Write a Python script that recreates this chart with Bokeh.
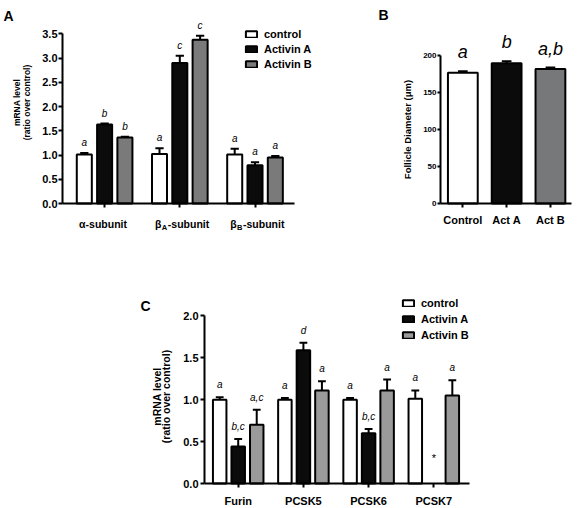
import math
from bokeh.plotting import figure
from bokeh.models import (ColumnDataSource, Range1d, FixedTicker, Label, LabelSet,
                          Legend, LegendItem, Spacer, PrintfTickFormatter,
                          CustomLabelingPolicy)
from bokeh.layouts import row, column
from bokeh.embed import file_html
from bokeh.resources import INLINE
from bokeh.core.properties import value

FONT = "Liberation Sans"

# ---------------- data ----------------
series = ["control", "Activin A", "Activin B"]

# Panel A
a_groups = ["α-subunit", "βA-subunit", "βB-subunit"]
a_control = [1.01, 1.02, 1.01]
a_control_err = [0.03, 0.12, 0.12]
a_actA = [1.63, 2.90, 0.79]
a_actA_err = [0.02, 0.15, 0.06]
a_actB = [1.36, 3.38, 0.95]
a_actB_err = [0.02, 0.08, 0.03]
a_sig_control = ["a", "a", "a"]
a_sig_actA = ["b", "c", "a"]
a_sig_actB = ["b", "c", "a"]
a_yticks = [0, 0.5, 1.0, 1.5, 2.0, 2.5, 3.0, 3.5]

# Panel B
b_groups = ["Control", "Act A", "Act B"]
b_values = [177, 190, 182]
b_err = [2, 2.5, 2]
b_sig = ["a", "b", "a,b"]
b_yticks = [0, 50, 100, 150, 200]

# Panel C
c_groups = ["Furin", "PCSK5", "PCSK6", "PCSK7"]
c_control = [1.00, 1.00, 1.00, 1.01]
c_control_err = [0.03, 0.02, 0.02, 0.10]
c_actA = [0.44, 1.59, 0.60, None]
c_actA_err = [0.09, 0.09, 0.05, None]
c_actB = [0.70, 1.11, 1.11, 1.05]
c_actB_err = [0.18, 0.11, 0.13, 0.18]
c_sig_control = ["a", "a", "a", "a"]
c_sig_actA = ["b,c", "d", "b,c", None]
c_sig_actB = ["a,c", "a", "a", "a"]
c_star_group = "PCSK7"
c_star_y = 0.31
c_yticks = [0, 0.5, 1.0, 1.5, 2.0]

WHITE = "#ffffff"
BLACK = "#0b0b0b"
GRAY_A = "#7a7a7a"
GRAY_B = "#76787a"
GRAY_C = "#9a9a9a"

HIDE_ALL = CustomLabelingPolicy(code="""
for (const i of Array.from(indices)) indices.unset(i)
""")


def make_fig(W, H, ox, oy, x0, sx, sy):
    """Canvas == frame; (ox, oy) is the canvas pixel of data point (x0, 0)."""
    xr = (x0 - ox / sx, x0 + (W - ox) / sx)
    yr = (-(H - oy) / sy, oy / sy)
    p = figure(frame_width=W, frame_height=H,
               x_range=Range1d(*xr), y_range=Range1d(*yr),
               output_backend="svg", toolbar_location=None,
               min_border_left=0, min_border_right=0,
               min_border_top=0, min_border_bottom=0)
    p.outline_line_color = None
    p.xgrid.visible = False
    p.ygrid.visible = False
    p.background_fill_color = "white"
    p.border_fill_color = "white"
    for ax in (p.xaxis[0], p.yaxis[0]):
        ax.axis_line_width = 2
        ax.axis_line_color = "black"
        ax.major_tick_line_width = 2
        ax.major_tick_line_color = "black"
        ax.major_tick_in = 0
        ax.major_tick_out = 4
        ax.minor_tick_in = 0
        ax.minor_tick_out = 0
        ax.major_label_text_font = FONT
        ax.major_label_text_font_style = "bold"
        ax.major_label_text_color = "black"
        ax.major_label_text_font_size = "11px"
    p.xaxis.fixed_location = 0
    p.yaxis.fixed_location = x0
    return p


def draw_series(p, gx, vals, errs, sigs, off, width, colors, cap, gap, sig_size):
    xs, tops, ebar, x0, x1, cols = [], [], [], [], [], []
    tx, ty, tt = [], [], []
    for g, v, e, s, c in zip(gx, vals, errs, sigs, colors):
        if v is None:
            continue
        xs.append(g + off)
        tops.append(v)
        ebar.append(v + e)
        x0.append(g + off - cap)
        x1.append(g + off + cap)
        cols.append(c)
        if s:
            tx.append(g + off)
            ty.append(v + e)
            tt.append(s)
    src = ColumnDataSource(dict(x=xs, top=tops, ebar=ebar, x0=x0, x1=x1, color=cols))
    r = p.vbar(x="x", top="top", width=width, source=src, fill_color="color",
               line_color="black", line_width=2)
    p.segment(x0="x", y0="top", x1="x", y1="ebar", source=src,
              line_color="black", line_width=2)
    p.segment(x0="x0", y0="ebar", x1="x1", y1="ebar", source=src,
              line_color="black", line_width=2)
    lab = ColumnDataSource(dict(x=tx, y=ty, text=tt))
    p.add_layout(LabelSet(x="x", y="y", text="text", source=lab, y_offset=gap,
                          text_align="center", text_baseline="alphabetic",
                          text_font=value(FONT), text_font_style="italic",
                          text_font_size=value(f"{sig_size}px"), text_color="black"))
    return r


def add_legend(p, renderers, vx, vy, lh):
    items = [LegendItem(label=value(name), renderers=[r]) for name, r in zip(series, renderers)]
    leg = Legend(items=items, location=(vx, vy), glyph_width=14, glyph_height=8,
                 label_height=lh, label_standoff=6, padding=0, spacing=0, margin=0,
                 border_line_color=None, background_fill_alpha=0,
                 label_text_font=FONT, label_text_font_style="bold",
                 label_text_font_size="11px", label_text_color="black")
    p.add_layout(leg)


def text_label(p, x, y, text, xo=0, yo=0, size="11px", style="bold", align="center",
               baseline="alphabetic", angle=0.0):
    p.add_layout(Label(x=x, y=y, text=text, x_offset=xo, y_offset=yo,
                       text_font=FONT, text_font_size=size, text_font_style=style,
                       text_align=align, text_baseline=baseline, angle=angle,
                       text_color="black"))


# ---------------- Panel A ----------------
ax0 = -0.56
pA = make_fig(345, 260, 62, 203, ax0, 75.2, 48.46)
ga = list(range(len(a_groups)))
pA.xaxis.ticker = FixedTicker(ticks=ga)
pA.xaxis.major_label_policy = HIDE_ALL
pA.xaxis.bounds = (ax0, 2.53)
pA.yaxis.ticker = FixedTicker(ticks=a_yticks)
pA.yaxis.formatter = PrintfTickFormatter(format="%.1f")
pA.yaxis.bounds = (0, 3.5)
pA.yaxis.major_label_standoff = 1

rA = [
    draw_series(pA, ga, a_control, a_control_err, a_sig_control, -0.27, 0.2, [WHITE] * 3, 0.055, 7, 10),
    draw_series(pA, ga, a_actA, a_actA_err, a_sig_actA, 0.0, 0.2, [BLACK] * 3, 0.055, 7, 10),
    draw_series(pA, ga, a_actB, a_actB_err, a_sig_actB, 0.27, 0.2, [GRAY_A] * 3, 0.055, 7, 10),
]
add_legend(pA, rA, 244, 189, 15)

for g, name in zip(ga, a_groups):
    if name.startswith("β"):
        text_label(pA, g, 0, name[0], xo=-18.3, yo=-20.3, size="10.5px", align="right")
        text_label(pA, g, 0, name[1], xo=-18.0, yo=-23.5, size="7.5px", align="left")
        text_label(pA, g, 0, name[2:], xo=-12.0, yo=-20.3, size="10.5px", align="left")
    else:
        text_label(pA, g, 0, name, xo=-25.5, yo=-20.3, size="10.5px", align="left")

text_label(pA, ax0, 0, "mRNA level", xo=-46, yo=101, size="8.5px",
           baseline="middle", angle=math.pi / 2)
text_label(pA, ax0, 0, "(ratio over control)", xo=-36, yo=101, size="8.5px",
           baseline="middle", angle=math.pi / 2)
text_label(pA, ax0, 0, "A", xo=-59, yo=188, size="14px", align="left")

# ---------------- Panel B ----------------
bx0 = -0.51
pB = make_fig(227, 260, 95, 203, bx0, 43.8, 0.7385)
gb = list(range(len(b_groups)))
pB.xaxis.ticker = FixedTicker(ticks=gb)
pB.xaxis.major_label_overrides = {i: n for i, n in zip(gb, b_groups)}
pB.xaxis.major_label_standoff = 6
pB.xaxis.bounds = (bx0, 2.48)
pB.yaxis.ticker = FixedTicker(ticks=b_yticks)
pB.yaxis.bounds = (0, 200)
pB.yaxis.major_label_text_font_size = "8px"
pB.yaxis.major_tick_out = 3
pB.yaxis.major_label_standoff = 1

draw_series(pB, gb, b_values, b_err, b_sig, 0.0, 0.68, [WHITE, BLACK, GRAY_B], 0.11, 13, 18)

text_label(pB, bx0, 0, "Follicle Diameter (μm)", xo=-33, yo=74, size="9.5px",
           baseline="middle", angle=math.pi / 2)
text_label(pB, bx0, 0, "B", xo=-62, yo=189, size="14px", align="left")

# ---------------- Panel C ----------------
cx0 = -0.517
pC = make_fig(457, 247, 84, 223, cx0, 65.2, 83.85)
gc = list(range(len(c_groups)))
pC.xaxis.ticker = FixedTicker(ticks=gc)
pC.xaxis.major_label_overrides = {i: n for i, n in zip(gc, c_groups)}
pC.xaxis.major_label_standoff = 7
pC.xaxis.bounds = (cx0, 3.55)
pC.yaxis.ticker = FixedTicker(ticks=c_yticks)
pC.yaxis.formatter = PrintfTickFormatter(format="%.1f")
pC.yaxis.bounds = (0, 2.0)
pC.yaxis.major_label_standoff = 2

rC = [
    draw_series(pC, gc, c_control, c_control_err, c_sig_control, -0.284, 0.207, [WHITE] * 4, 0.06, 9, 10),
    draw_series(pC, gc, c_actA, c_actA_err, c_sig_actA, 0.0, 0.207, [BLACK] * 4, 0.06, 9, 10),
    draw_series(pC, gc, c_actB, c_actB_err, c_sig_actB, 0.284, 0.207, [GRAY_C] * 4, 0.06, 9, 10),
]
add_legend(pC, rC, 281, 164, 16)

text_label(pC, c_groups.index(c_star_group), c_star_y, "*", size="11px", style="normal",
           baseline="middle")
text_label(pC, cx0, 0, "mRNA level", xo=-48, yo=87, size="10.5px",
           baseline="middle", angle=math.pi / 2)
text_label(pC, cx0, 0, "(ratio over control)", xo=-39, yo=87, size="10.5px",
           baseline="middle", angle=math.pi / 2)
text_label(pC, cx0, 0, "C", xo=-64, yo=178, size="14px", align="left")

layout = column(row(pA, pB), row(Spacer(width=120, height=247), pC))

open("out.html", "w").write(file_html(layout, INLINE))
